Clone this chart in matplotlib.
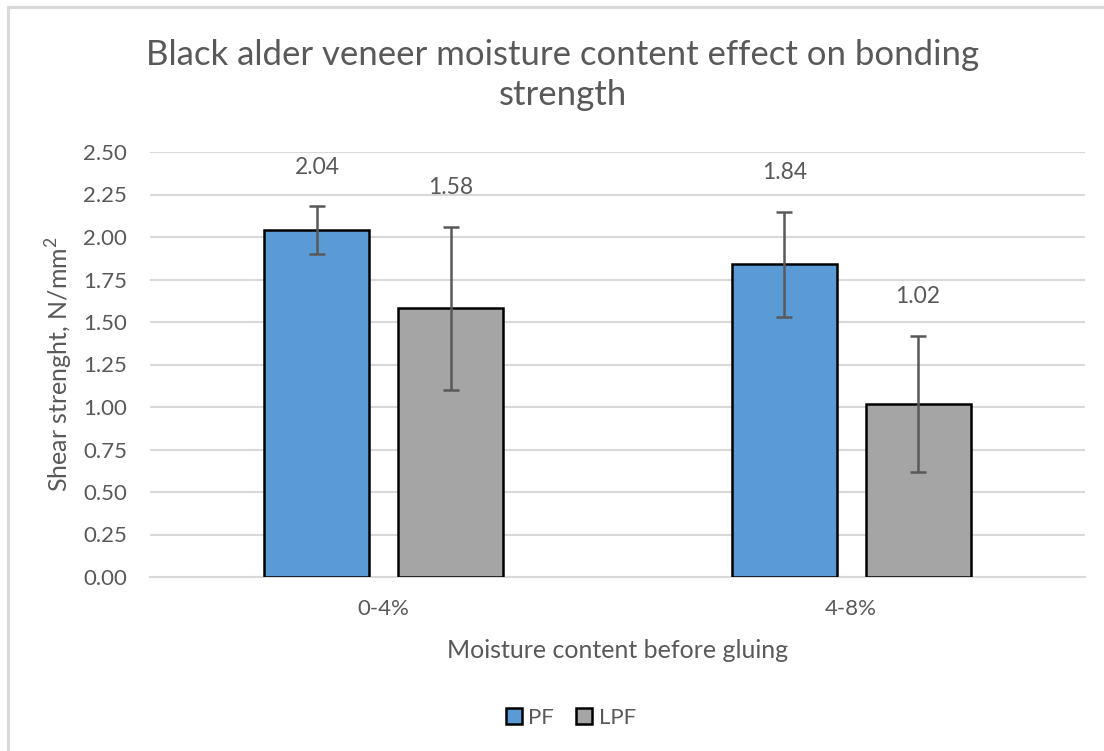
import matplotlib
matplotlib.use("Agg")
import matplotlib.pyplot as plt
from matplotlib.patches import Rectangle
import numpy as np

plt.rcParams['font.family'] = ['Lato', 'DejaVu Sans']

categories = ['0-4%', '4-8%']
series = ['PF', 'LPF']
pf = [2.04, 1.84]
lpf = [1.58, 1.02]
pf_err = [0.14, 0.31]
lpf_err = [0.48, 0.40]
colors = ['#5b9bd5', '#a5a5a5']
txt = '#595959'

fig = plt.figure(figsize=(11.04, 7.51), dpi=100)
# chart frame (cut off at right and bottom like the screenshot)
fig.patches.append(Rectangle((8 / 1104, -0.05), 1.2, 1 - 7 / 751 + 0.05,
                             transform=fig.transFigure, fill=False,
                             edgecolor='#d9d9d9', linewidth=2.2, zorder=0))

ax = fig.add_axes([150 / 1104, 1 - 577 / 751, 935 / 1104, 425 / 751])

x = np.arange(len(categories))
w = 0.225
off = 0.143
for vals, errs, c, name, d in [(pf, pf_err, colors[0], 'PF', -off),
                               (lpf, lpf_err, colors[1], 'LPF', off)]:
    ax.bar(x + d, vals, w, color=c, edgecolor='black', linewidth=1.8,
           label=name, zorder=3)
    ax.errorbar(x + d, vals, yerr=errs, fmt='none', ecolor='#595959',
                elinewidth=1.8, capsize=6, capthick=1.8, zorder=4)
    for xi, v, e in zip(x + d, vals, errs):
        ax.text(xi, v + e + 0.23, f'{v:.2f}', ha='center', va='center',
                fontsize=16.5, color=txt)

ax.set_xlim(-0.5, 1.5)
ax.set_ylim(0, 2.5)
ax.set_yticks(np.arange(0, 2.51, 0.25))
ax.set_yticklabels([f'{t:.2f}' for t in np.arange(0, 2.51, 0.25)])
ax.set_xticks(x)
ax.set_xticklabels(categories)
ax.tick_params(axis='both', length=0, labelsize=16, colors=txt)
ax.tick_params(axis='y', pad=16.5)
ax.tick_params(axis='x', pad=16)
ax.grid(axis='y', color='#d9d9d9', linewidth=1.5, zorder=0)
for s in ['top', 'right', 'left']:
    ax.spines[s].set_visible(False)
ax.spines['bottom'].set_color('#d9d9d9')
ax.spines['bottom'].set_linewidth(1.5)

ax.set_xlabel('Moisture content before gluing', fontsize=18, color=txt,
              labelpad=14)
ax.set_ylabel('Shear strenght, N/mm$^\\mathregular{2}$', fontsize=18,
              color=txt, labelpad=6)

fig.text(563 / 1104, 1 - 75 / 751,
         'Black alder veneer moisture content effect on bonding\nstrength',
         ha='center', va='center', fontsize=25, color=txt, linespacing=1.3)

leg = fig.legend(*ax.get_legend_handles_labels(), loc='center',
                 bbox_to_anchor=(571 / 1104, 1 - 718 / 751),
                 ncol=2, frameon=False, fontsize=16, handlelength=0.7,
                 handleheight=0.7, handletextpad=0.3, columnspacing=1.0)
for t in leg.get_texts():
    t.set_color(txt)

fig.savefig('out.png', dpi=100)
